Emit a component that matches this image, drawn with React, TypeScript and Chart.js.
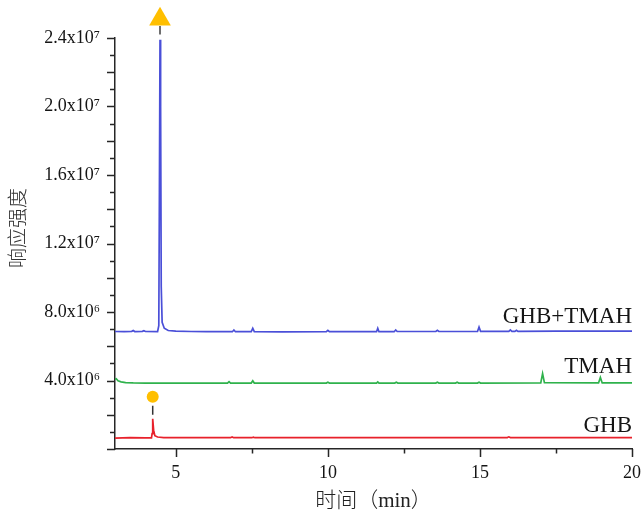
import React, { useEffect, useRef } from 'react';
import { Chart, registerables } from 'chart.js';

Chart.register(...registerables);

// [time (min), response]
const ghbTmah: [number, number][] = [
  [3.0, 6.86e6], [3.3, 6.85e6], [3.55, 6.87e6], [3.6, 6.92e6], [3.65, 6.86e6],
  [3.9, 6.87e6], [3.95, 6.91e6], [4.0, 6.86e6], [4.4, 6.85e6], [4.44, 7.2e6],
  [4.46, 15.0e6], [4.48, 23.9e6], [4.5, 20.0e6], [4.52, 9.5e6], [4.55, 7.4e6],
  [4.62, 7.05e6], [4.75, 6.92e6], [5.0, 6.88e6], [5.5, 6.86e6], [6.0, 6.85e6],
  [6.86, 6.85e6], [6.91, 6.95e6], [6.96, 6.85e6], [7.48, 6.85e6], [7.53, 7.05e6],
  [7.58, 6.85e6], [8.5, 6.84e6], [9.95, 6.85e6], [10.0, 6.93e6], [10.05, 6.85e6],
  [11.6, 6.85e6], [11.64, 7.05e6], [11.68, 6.85e6], [12.18, 6.85e6], [12.23, 6.95e6],
  [12.28, 6.86e6], [13.55, 6.86e6], [13.6, 6.93e6], [13.65, 6.86e6], [14.92, 6.86e6],
  [14.97, 7.12e6], [15.02, 6.87e6], [15.95, 6.87e6], [16.0, 6.95e6], [16.05, 6.87e6],
  [16.15, 6.87e6], [16.2, 6.93e6], [16.25, 6.87e6], [17.5, 6.88e6], [20.0, 6.88e6],
];

const tmah: [number, number][] = [
  [3.0, 4.08e6], [3.04, 4.1e6], [3.1, 3.98e6], [3.2, 3.92e6], [3.35, 3.88e6],
  [3.6, 3.86e6], [4.0, 3.85e6], [5.0, 3.85e6], [6.7, 3.85e6], [6.75, 3.93e6],
  [6.8, 3.85e6], [7.48, 3.85e6], [7.53, 3.98e6], [7.58, 3.85e6], [9.95, 3.85e6],
  [10.0, 3.9e6], [10.05, 3.85e6], [11.6, 3.85e6], [11.64, 3.92e6], [11.68, 3.85e6],
  [12.2, 3.85e6], [12.25, 3.9e6], [12.3, 3.85e6], [13.55, 3.85e6], [13.6, 3.9e6],
  [13.65, 3.85e6], [14.2, 3.85e6], [14.25, 3.9e6], [14.3, 3.85e6], [14.92, 3.85e6],
  [14.97, 3.9e6], [15.02, 3.85e6], [17.0, 3.86e6], [17.06, 4.4e6], [17.12, 3.87e6],
  [18.9, 3.86e6], [18.96, 4.18e6], [19.02, 3.86e6], [20.0, 3.86e6],
];

const ghb: [number, number][] = [
  [3.0, 0.64e6], [3.5, 0.66e6], [4.0, 0.65e6], [4.2, 0.65e6], [4.22, 0.9e6],
  [4.24, 1.76e6], [4.27, 1.1e6], [4.31, 0.78e6], [4.4, 0.7e6], [4.6, 0.67e6],
  [5.0, 0.66e6], [6.8, 0.66e6], [6.85, 0.7e6], [6.9, 0.66e6], [7.5, 0.66e6],
  [7.55, 0.69e6], [7.6, 0.66e6], [10.0, 0.66e6], [12.0, 0.66e6], [15.9, 0.67e6],
  [15.95, 0.71e6], [16.0, 0.67e6], [20.0, 0.67e6],
];

const triangleMarker: [number, number][] = [[4.48, 25.1e6]];
const triangleLink: [number, number][] = [[4.48, 24.7e6], [4.48, 24.2e6]];
const circleMarker: [number, number][] = [[4.24, 3.05e6]];
const circleLink: [number, number][] = [[4.24, 2.52e6], [4.24, 2.0e6]];

const seriesLabels = ['GHB+TMAH', 'TMAH', 'GHB'];
const seriesLabelY = [7.38e6, 4.45e6, 1.0e6];

const yTickValues = [0, 1, 2, 3, 4, 5, 6, 7, 8, 9, 10, 11, 12, 13, 14, 15, 16, 17, 18, 19, 20, 21, 22, 23, 24].map((v) => v * 1e6);
const yLabelValues = [4e6, 8e6, 12e6, 16e6, 20e6, 24e6];
const yTickLabels = ['4.0x10⁶', '8.0x10⁶', '1.2x10⁷', '1.6x10⁷', '2.0x10⁷', '2.4x10⁷'];
const xTickValues = [5, 7.5, 10, 12.5, 15, 17.5, 20];
const xTickLabels = ['5', '', '10', '', '15', '', '20'];

const yTitle = '响应强度';
const xTitle = '时间（min）';

const toPts = (a: [number, number][]) => a.map(([x, y]) => ({ x, y }));

const decor = {
  id: 'decor',
  afterDraw(chart: any) {
    const { ctx, chartArea, scales } = chart;
    const x = scales.x;
    const y = scales.y;
    ctx.save();
    ctx.strokeStyle = '#262626';
    ctx.lineWidth = 1.5;
    ctx.beginPath();
    y.ticks.forEach((t: any) => {
      const py = Math.round(y.getPixelForValue(t.value)) + 0.5;
      const len = t.value % 2e6 === 0 ? 8 : 5;
      ctx.moveTo(chartArea.left - len, py);
      ctx.lineTo(chartArea.left, py);
    });
    x.ticks.forEach((t: any) => {
      const px = Math.round(x.getPixelForValue(t.value)) + 0.5;
      const len = t.value % 5 === 0 ? 8 : 4.5;
      ctx.moveTo(px, chartArea.bottom);
      ctx.lineTo(px, chartArea.bottom + len);
    });
    ctx.stroke();

    // triangle marker (sits above the plot area)
    ctx.fillStyle = '#ffbf00';
    triangleMarker.forEach(([vx, vy]) => {
      const px = x.getPixelForValue(vx);
      const py = y.getPixelForValue(vy);
      const r = 12.5;
      ctx.beginPath();
      ctx.moveTo(px, py - r);
      ctx.lineTo(px + r * 0.866, py + r / 2);
      ctx.lineTo(px - r * 0.866, py + r / 2);
      ctx.closePath();
      ctx.fill();
    });

    ctx.fillStyle = '#151515';
    ctx.font = '23px "Liberation Serif", serif';
    ctx.textAlign = 'right';
    ctx.textBaseline = 'alphabetic';
    seriesLabels.forEach((s, i) => {
      ctx.fillText(s, x.getPixelForValue(20), y.getPixelForValue(seriesLabelY[i]));
    });

    ctx.translate(y.left + 17.5, y.getPixelForValue(12.9e6));
    ctx.rotate(-Math.PI / 2);
    ctx.textAlign = 'center';
    ctx.textBaseline = 'middle';
    ctx.font = '300 20px "Noto Sans CJK SC", sans-serif';
    ctx.fillStyle = '#333';
    ctx.fillText(yTitle, 0, 0);
    ctx.restore();
  },
};

export default function App() {
  const ref = useRef<HTMLCanvasElement>(null);
  useEffect(() => {
    if (!ref.current) return;
    const chart = new Chart(ref.current, {
      type: 'line',
      data: {
        datasets: [
          { data: toPts(ghbTmah), borderColor: '#4a4fd8', borderWidth: 1.7, pointRadius: 0 },
          { data: toPts(tmah), borderColor: '#2fb24c', borderWidth: 1.7, pointRadius: 0 },
          { data: toPts(ghb), borderColor: '#e8212b', borderWidth: 1.7, pointRadius: 0 },
          { data: toPts(triangleLink), borderColor: '#6e6e6e', borderWidth: 2, pointRadius: 0, clip: false } as any,
          { data: toPts(circleLink), borderColor: '#333', borderWidth: 1.5, pointRadius: 0, clip: false } as any,
          {
            data: toPts(circleMarker), showLine: false, pointStyle: 'circle', pointRadius: 6,
            pointBackgroundColor: '#ffbf00', pointBorderWidth: 0, pointBorderColor: '#ffbf00', clip: false,
          } as any,
        ],
      },
      options: {
        animation: false,
        responsive: true,
        maintainAspectRatio: false,
        layout: { padding: { top: 38, right: 10, left: 0, bottom: 0 } },
        plugins: { legend: { display: false }, tooltip: { enabled: false } },
        elements: { line: { tension: 0 } },
        scales: {
          x: {
            type: 'linear',
            min: 3,
            max: 20,
            afterBuildTicks: (s: any) => { s.ticks = xTickValues.map((v) => ({ value: v })); },
            afterFit: (s: any) => { s.height = 62; s.paddingLeft = 0; s.paddingRight = 0; },
            grid: { display: false, drawTicks: false },
            border: { display: true, color: '#262626', width: 1.5 },
            ticks: {
              autoSkip: false,
              maxRotation: 0,
              padding: 13,
              color: '#151515',
              font: { family: '"Liberation Serif", serif', size: 18 },
              callback: (v: any) => {
                const i = xTickValues.indexOf(Number(v));
                return i >= 0 ? xTickLabels[i] : '';
              },
            },
            title: {
              display: true,
              text: xTitle,
              color: '#222',
              padding: { top: 0, bottom: -3 },
              font: { family: '"Liberation Serif", "Noto Sans CJK SC", serif', size: 21, weight: '300' },
            },
          },
          y: {
            type: 'linear',
            min: 0,
            max: 24e6,
            afterBuildTicks: (s: any) => { s.ticks = yTickValues.map((v) => ({ value: v })); },
            afterFit: (s: any) => { s.width = 115; s.paddingTop = 0; s.paddingBottom = 0; },
            grid: { display: false, drawTicks: false },
            border: { display: true, color: '#262626', width: 1.5 },
            ticks: {
              autoSkip: false,
              padding: 15,
              color: '#151515',
              font: { family: '"Liberation Serif", serif', size: 18 },
              callback: (v: any) => {
                const i = yLabelValues.indexOf(Number(v));
                return i >= 0 ? yTickLabels[i] : '';
              },
            },
          },
        },
      },
      plugins: [decor],
    });
    return () => chart.destroy();
  }, []);
  return (
    <div style={{ position: 'absolute', left: 0, top: 0, width: 642, height: 511 }}>
      <canvas ref={ref} />
    </div>
  );
}
